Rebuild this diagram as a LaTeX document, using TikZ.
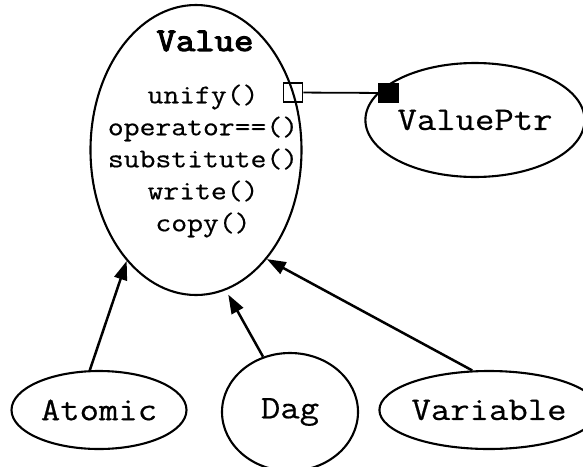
\documentclass[tikz,border=0pt]{standalone}
\usepackage{fontspec}
\newfontfamily\cour{Latin Modern Mono}[FakeStretch=1.14,FakeBold=0.5]
\newfontfamily\courbold{Latin Modern Mono}[FakeStretch=1.14,FakeBold=3.5]
\usetikzlibrary{shapes.geometric,arrows.meta}
\begin{document}
\begin{tikzpicture}[x=1pt,y=-1pt,
  cls/.style={draw,ellipse,line width=2.1pt,inner sep=0pt,
    font=\cour\fontsize{33}{36}\selectfont},
  inherit/.style={-{Triangle[length=19pt,width=13pt]},line width=2.5pt},
  port/.style={draw,line width=1.6pt,minimum size=19pt,inner sep=0pt}
]
\useasboundingbox (0,0) rectangle (583,466);

% class Value with its operations
\node[cls,minimum width=211pt,minimum height=290pt] (value) at (196,150) {};
\node[font=\courbold\fontsize{33}{36}\selectfont] (title) at (205,41) {Value};
\node[align=center,font=\cour\fontsize{27}{32}\selectfont] (methods) at (203,161)
  {unify()\\operator==()\\substitute()\\write()\\copy()};

% pointer class and the association ports
\node[cls,minimum width=194pt,minimum height=114pt] (ptr) at (475,120) {ValuePtr};
\node[port] (own) at (293,92.5) {};
\node[port,fill=black] (ref) at (388.5,93) {};
\draw[line width=1.8pt] (own) -- (ref);

% subclasses
\node[cls,minimum width=175pt,minimum height=78pt] (atomic) at (99,410) {Atomic};
\node[cls,minimum width=136pt,minimum height=118pt] (dag) at (290,412) {Dag};
\node[cls,minimum width=184pt,minimum height=78pt] (variable) at (489,410) {Variable};

% inheritance arrows
\draw[inherit] (atomic.103) -- (value.-122);
\draw[inherit,shorten >=5pt] (dag.116) -- (value.-78);
\draw[inherit] (variable.113) -- (value.-57);
\end{tikzpicture}
\end{document}
